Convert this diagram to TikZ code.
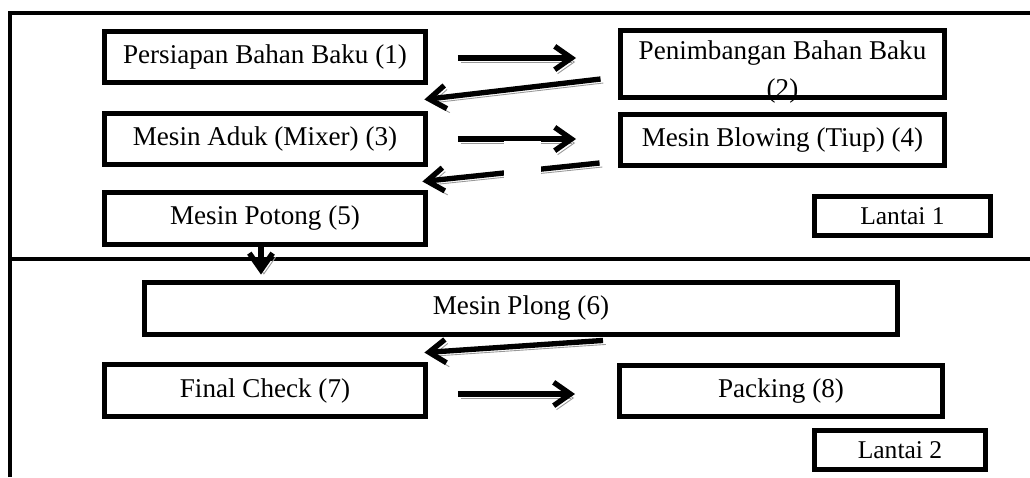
\documentclass[tikz,border=0pt]{standalone}
\usepackage{fontspec}
\setmainfont{Liberation Serif}
\usetikzlibrary{arrows.meta,calc}
\begin{document}
\begin{tikzpicture}[x=0.45pt,y=-0.45pt,
  frame/.style={line width=2.1pt},
  box/.style={draw, line width=2.2pt, inner sep=0pt, minimum height=23pt,
    font=\fontsize{12.2}{14}\selectfont},
  tag/.style={draw, line width=2.2pt, inner sep=0pt, minimum height=17.6pt,
    font=\fontsize{11.5}{13}\selectfont},
  flow/.style={line width=2.4pt, -{Straight Barb[length=7.5pt,width=10.5pt]},
    preaction={draw=black!40, transform canvas={shift={(1.3pt,-1.8pt)}}}}
]
\useasboundingbox (0,0) rectangle (1030,477);

% floor frame: outer border and divider between the two floors
\draw[frame] (10,477) -- (10,13) -- (1030,13);
\draw[frame] (10,259) -- (1030,259);

% first floor
\node[box, minimum width=144.4pt] (b1) at (265,57) {Persiapan Bahan Baku (1)};
\node[box, minimum width=145.8pt, minimum height=30.2pt] (b2) at (782.5,64) {};
\node[inner sep=0pt, align=center, font=\fontsize{12.2}{17.1}\selectfont] (b2t) at (782.5,72)
  {Penimbangan Bahan Baku\\(2)};
\node[box, minimum width=144.4pt] (b3) at (265,139) {Mesin Aduk (Mixer) (3)};
\node[box, minimum width=145.8pt] (b4) at (782.5,140) {Mesin Blowing (Tiup) (4)};
\node[box, minimum width=144.4pt, minimum height=23.4pt] (b5) at (265,218.5) {Mesin Potong (5)};
\node[tag, minimum width=79.2pt] (l1) at (902.5,216) {Lantai 1};

% second floor
\node[box, minimum width=338.9pt, minimum height=23.4pt] (b6) at (521,308.5) {Mesin Plong (6)};
\node[box, minimum width=144.4pt, minimum height=23.4pt] (b7) at (265,390.5) {Final Check (7)};
\node[box, minimum width=145.4pt] (b8) at (781,391) {Packing (8)};
\node[tag, minimum width=77pt] (l2) at (900,450) {Lantai 2};

% process flow
\draw[flow] ($(b1.east)+(30,1)$) -- ($(b1.east -| b2.west)+(-42,1)$);
\draw[flow] ($(b2.west)+(-17.5,15)$) -- ($(b1.south east)+(-3.5,14.5)$);
\draw[flow] ($(b3.east)+(30,0)$) -- ($(b3.east -| b4.west)+(-42,0)$);
\draw[flow] ($(b4.west)+(-18.5,23)$) -- ($(b3.south east)+(-5.5,14.5)$);
% blank patch lying over the middle of the two lower arrows
\fill[white] (504,140.5) rectangle (541,183);
\coordinate (down) at ($(b5.south)+(-4,0)$);
\draw[flow, shorten >=2.5pt] (down) -- (down |- b6.north);
\draw[flow] ($(b6.south)+(82,3.5)$) -- ($(b7.north east)+(-3.5,-9.5)$);
\draw[flow] ($(b7.east)+(30,3.5)$) -- ($(b7.east -| b8.west)+(-42,3.5)$);
\end{tikzpicture}
\end{document}
